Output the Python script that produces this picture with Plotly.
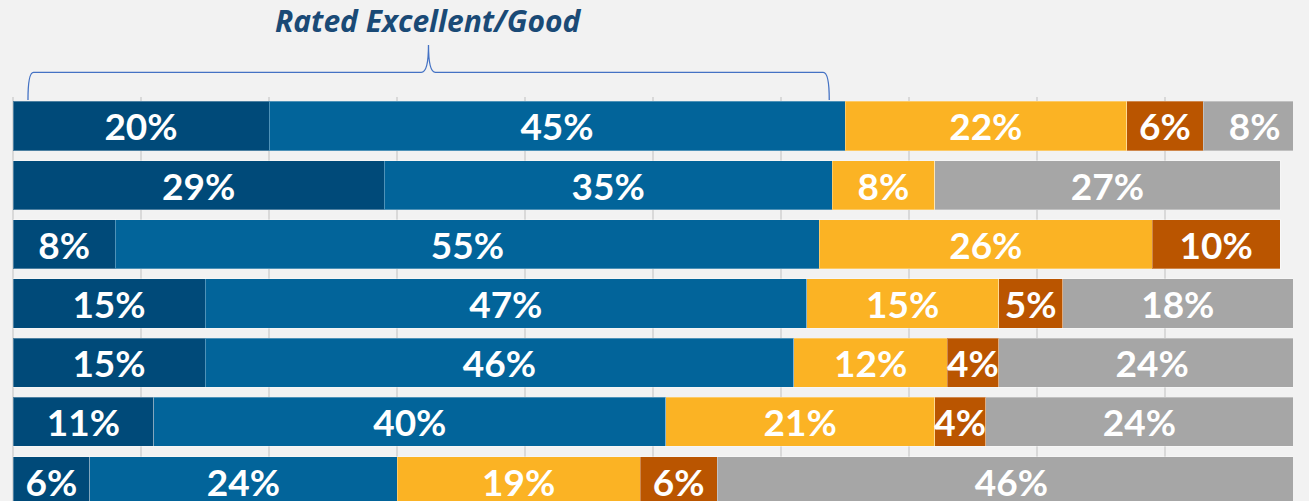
import plotly.graph_objects as go

rows = [1, 2, 3, 4, 5, 6, 7]
excellent = [20, 29, 8, 15, 15, 11, 6]
good = [45, 35, 55, 47, 46, 40, 24]
fair = [22, 8, 26, 15, 12, 21, 19]
poor = [6, 0, 10, 5, 4, 4, 6]
no_rating = [8, 27, 0, 18, 24, 24, 46]

series = [
    ("Excellent", excellent, "#004a79"),
    ("Good", good, "#02649a"),
    ("Fair", fair, "#fbb324"),
    ("Poor", poor, "#ba5500"),
    ("No rating", no_rating, "#a6a6a6"),
]

bracket_label = "Rated Excellent/Good"

fig = go.Figure()
for name, vals, color in series:
    fig.add_trace(
        go.Bar(
            y=rows,
            x=vals,
            name=name,
            orientation="h",
            width=0.83,
            marker={"color": color, "line": {"color": "rgba(255,255,255,0.3)", "width": 1}},
            text=[f"{v}%" if v else "" for v in vals],
            textposition="inside",
            insidetextanchor="middle",
            textangle=0,
            constraintext="none",
            textfont={"family": "Lato", "size": 37, "color": "white", "weight": "bold"},
            hoverinfo="skip",
        )
    )

# curly bracket above the excellent + good part of the first row
fig.add_shape(
    type="path",
    xref="paper",
    yref="paper",
    path=(
        "M 0.0117,0.9926 Q 0.0117,1.0611 0.016,1.0611 L 0.319,1.0611 "
        "Q 0.3246,1.0611 0.3246,1.1287 Q 0.3246,1.0611 0.330,1.0611 "
        "L 0.633,1.0611 Q 0.6377,1.0611 0.6377,0.9926"
    ),
    line={"color": "#4472c4", "width": 1.3},
)
fig.add_annotation(
    text=f"<i>{bracket_label}</i>",
    xref="paper",
    yref="paper",
    x=0.3246,
    y=1.19,
    xanchor="center",
    yanchor="middle",
    showarrow=False,
    font={"family": "Open Sans", "size": 30, "color": "#1a4a76", "weight": "bold"},
)

fig.update_layout(
    barmode="stack",
    width=1309,
    height=501,
    margin={"l": 13, "r": 16, "t": 97, "b": 0},
    paper_bgcolor="#f2f2f2",
    plot_bgcolor="#f2f2f2",
    showlegend=False,
    xaxis={
        "range": [0, 100],
        "dtick": 10,
        "showgrid": True,
        "gridcolor": "#d9d9d9",
        "gridwidth": 1.5,
        "zeroline": True,
        "zerolinecolor": "#d9d9d9",
        "zerolinewidth": 1.5,
        "showticklabels": False,
        "fixedrange": True,
    },
    yaxis={
        "range": [7.336, 0.511],
        "showgrid": False,
        "zeroline": False,
        "showticklabels": False,
        "fixedrange": True,
    },
)

fig.write_html(
    "out.html",
    config={"displayModeBar": False},
    post_script="document.body.style.margin='0';document.body.style.background='#f2f2f2';",
)
